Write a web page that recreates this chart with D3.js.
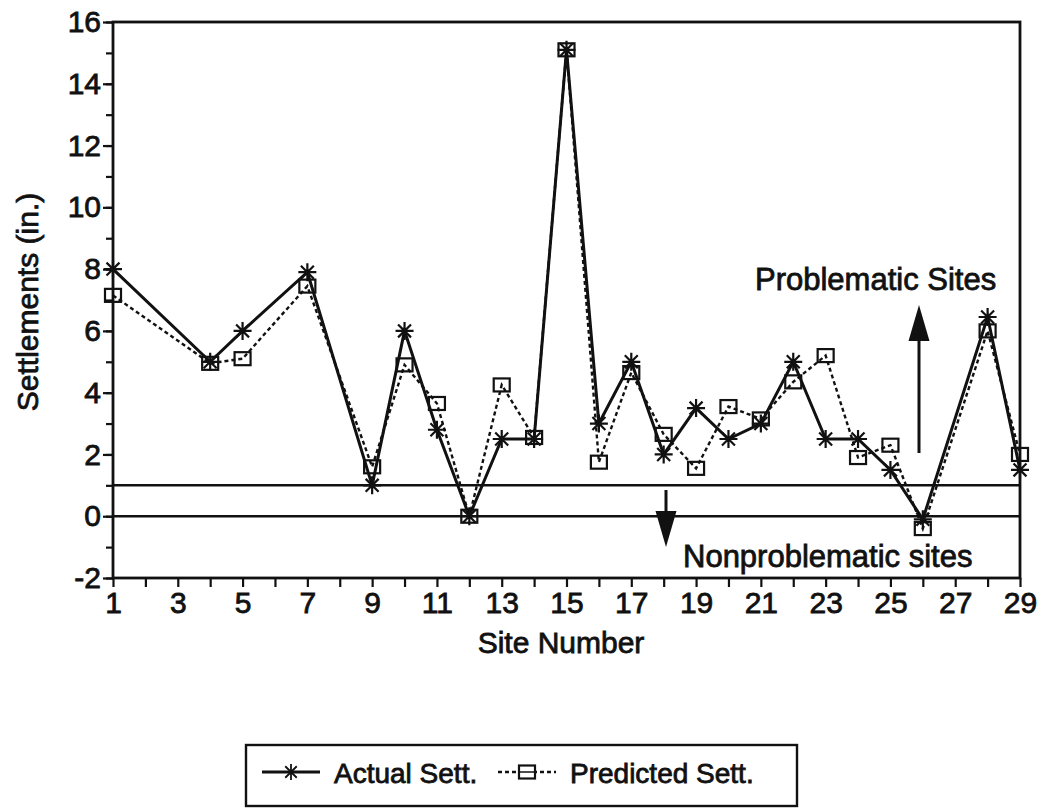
<!DOCTYPE html>
<html>
<head>
<meta charset="utf-8">
<script src="https://cdn.jsdelivr.net/npm/d3@7"></script>
<style>
  body { margin: 0; background: #fff; }
  text { font-family: "Liberation Sans", Arial, Helvetica, sans-serif; fill: #111; stroke: #111; stroke-width: 0.8px; }
</style>
</head>
<body>
<div id="chart"></div>
<script>
// site numbers and settlements (in.)
var sites     = [1, 4, 5, 7, 9, 10, 11, 12, 13, 14, 15, 16, 17, 18, 19, 20, 21, 22, 23, 24, 25, 26, 28, 29];
var actual    = [8.0, 5.0, 6.0, 7.9, 1.0, 6.0, 2.8, 0.0, 2.5, 2.5, 15.1, 3.0, 5.0, 2.0, 3.5, 2.5, 3.0, 5.0, 2.5, 2.5, 1.5, -0.1, 6.45, 1.5];
var predicted = [7.15, 4.95, 5.1, 7.45, 1.6, 4.9, 3.65, 0.0, 4.25, 2.55, 15.1, 1.75, 4.65, 2.65, 1.55, 3.55, 3.15, 4.35, 5.2, 1.9, 2.3, -0.4, 6.0, 2.0];

var xTickLabels = [1, 3, 5, 7, 9, 11, 13, 15, 17, 19, 21, 23, 25, 27, 29];
var yTickLabels = [-2, 0, 2, 4, 6, 8, 10, 12, 14, 16];
var limitLines  = [0, 1];   // boundary between problematic / nonproblematic
var seriesNames = ["Actual Sett.", "Predicted Sett."];

var width = 1045, height = 809;
// plot box (note: "top" is a reserved window prop, so prefix these)
var pLeft = 113, pRight = 1020, pTop = 22, pBottom = 578;

var svg = d3.select("#chart")
    .append("svg")
    .attr("width", width)
    .attr("height", height);

var x = d3.scaleLinear().domain([1, 29]).range([pLeft, pRight]);
var y = d3.scaleLinear().domain([-2, 16]).range([pBottom, pTop]);

// minor ticks (every unit) on the y axis
svg.append("g")
    .attr("transform", "translate(" + pLeft + ",0)")
    .call(d3.axisLeft(y).tickValues(d3.range(-2, 17)).tickSize(7).tickSizeOuter(0).tickFormat(""))
    .call(function(g) { g.select(".domain").remove(); });

// plain hyphen for negatives, like the original
var yAxis = svg.append("g")
    .attr("transform", "translate(" + pLeft + ",0)")
    .call(d3.axisLeft(y).tickValues(yTickLabels).tickSize(10).tickPadding(2).tickSizeOuter(0)
        .tickFormat(function(d) { return String(d); }));
yAxis.select(".domain").remove();
yAxis.selectAll("text").style("font-size", "30px").attr("font-family", null);

var xAxis = svg.append("g")
    .attr("transform", "translate(0," + pBottom + ")")
    .call(d3.axisBottom(x).tickValues(d3.range(1, 30)).tickSize(9).tickPadding(5).tickSizeOuter(0)
        .tickFormat(function(d) { return xTickLabels.indexOf(d) >= 0 ? d : ""; }));
xAxis.select(".domain").remove();
xAxis.selectAll("text").style("font-size", "30px").attr("font-family", null);

svg.selectAll(".tick line").attr("stroke", "#111").attr("stroke-width", 2.2);

// frame
svg.append("rect")
    .attr("x", pLeft).attr("y", pTop)
    .attr("width", pRight - pLeft).attr("height", pBottom - pTop)
    .attr("fill", "none").attr("stroke", "#111").attr("stroke-width", 2.8);

// horizontal limit lines
svg.selectAll(".limit")
    .data(limitLines)
    .enter().append("line")
    .attr("x1", pLeft).attr("x2", pRight)
    .attr("y1", function(d) { return y(d); })
    .attr("y2", function(d) { return y(d); })
    .attr("stroke", "#111").attr("stroke-width", 2.5);

// axis titles
svg.append("text")
    .attr("x", 561).attr("y", 653)
    .attr("text-anchor", "middle")
    .style("font-size", "30px")
    .text("Site Number");

svg.append("text")
    .attr("transform", "translate(38,302) rotate(-90)")
    .attr("text-anchor", "middle")
    .style("font-size", "30px")
    .text("Settlements (in.)");

// series data
var actualPts = sites.map(function(s, i) { return [s, actual[i]]; });
var predPts = sites.map(function(s, i) { return [s, predicted[i]]; });

var line = d3.line()
    .x(function(d) { return x(d[0]); })
    .y(function(d) { return y(d[1]); });

function starPath(r) {
    var d = r * 0.72;
    return "M" + (-r) + ",0L" + r + ",0M0," + (-r) + "L0," + r +
        "M" + (-d) + "," + (-d) + "L" + d + "," + d +
        "M" + (-d) + "," + d + "L" + d + "," + (-d);
}

svg.append("path")
    .datum(predPts)
    .attr("d", line)
    .attr("fill", "none")
    .attr("stroke", "#111")
    .attr("stroke-width", 2.4)
    .attr("stroke-dasharray", "4,3");

svg.append("path")
    .datum(actualPts)
    .attr("d", line)
    .attr("fill", "none")
    .attr("stroke", "#111")
    .attr("stroke-width", 3);

svg.selectAll(".sq")
    .data(predPts)
    .enter().append("rect")
    .attr("x", function(d) { return x(d[0]) - 8; })
    .attr("y", function(d) { return y(d[1]) - 6.5; })
    .attr("width", 16).attr("height", 13)
    .attr("fill", "none").attr("stroke", "#111").attr("stroke-width", 2.2);

svg.selectAll(".star")
    .data(actualPts)
    .enter().append("path")
    .attr("transform", function(d) { return "translate(" + x(d[0]) + "," + y(d[1]) + ")"; })
    .attr("d", starPath(9))
    .attr("stroke", "#111").attr("stroke-width", 2.2);

// annotations
svg.append("text")
    .attr("x", 755).attr("y", 290)
    .style("font-size", "31px")
    .text("Problematic Sites");

svg.append("text")
    .attr("x", 683).attr("y", 567)
    .style("font-size", "31px")
    .text("Nonproblematic sites");

function arrow(xc, yFrom, yTo) {
    var dir = yTo < yFrom ? -1 : 1;
    var headLen = 36, headW = 10.5;
    svg.append("line")
        .attr("x1", xc).attr("x2", xc)
        .attr("y1", yFrom).attr("y2", yTo - dir * headLen)
        .attr("stroke", "#111").attr("stroke-width", 3);
    svg.append("path")
        .attr("d", "M" + xc + "," + yTo + "L" + (xc - headW) + "," + (yTo - dir * headLen) +
            "L" + (xc + headW) + "," + (yTo - dir * headLen) + "Z")
        .attr("fill", "#111");
}
arrow(919, 453, 305);
arrow(666, 490, 547);

// legend
var legend = svg.append("g");
legend.append("rect")
    .attr("x", 246).attr("y", 745)
    .attr("width", 551).attr("height", 61)
    .attr("fill", "none").attr("stroke", "#111").attr("stroke-width", 2.4);

var legX = [262, 498];
var legW = 58;
seriesNames.forEach(function(name, i) {
    var lx = legX[i], ly = 772;
    legend.append("line")
        .attr("x1", lx).attr("x2", lx + legW)
        .attr("y1", ly).attr("y2", ly)
        .attr("stroke", "#111")
        .attr("stroke-width", i == 0 ? 3 : 2.4)
        .attr("stroke-dasharray", i == 0 ? null : "4,3");
    if (i == 0) {
        legend.append("path")
            .attr("transform", "translate(" + (lx + legW / 2) + "," + ly + ")")
            .attr("d", starPath(8))
            .attr("stroke", "#111").attr("stroke-width", 1.8);
    } else {
        legend.append("rect")
            .attr("x", lx + legW / 2 - 8).attr("y", ly - 6.5)
            .attr("width", 16).attr("height", 13)
            .attr("fill", "#fff").attr("stroke", "#111").attr("stroke-width", 2.2);
        legend.append("line")
            .attr("x1", lx + legW / 2 - 8).attr("x2", lx + legW / 2 + 8)
            .attr("y1", ly).attr("y2", ly)
            .attr("stroke", "#111").attr("stroke-width", 1.5);
    }
    legend.append("text")
        .attr("x", lx + legW + 14).attr("y", 783)
        .style("font-size", "28px")
        .text(name);
});
</script>
</body>
</html>
